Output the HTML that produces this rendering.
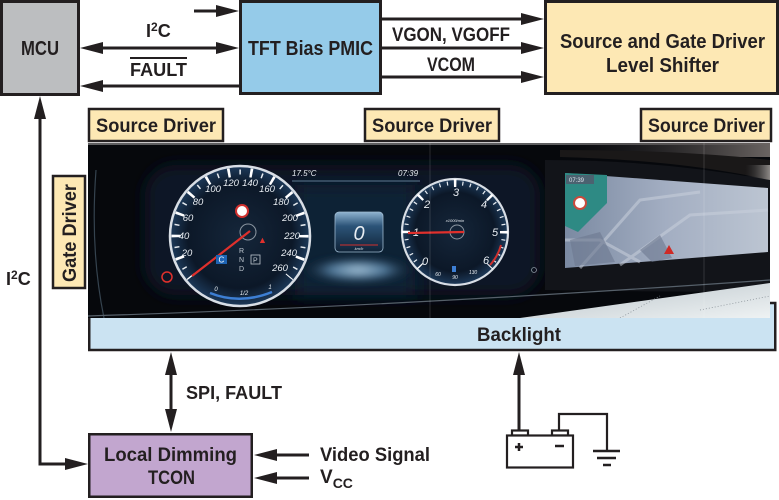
<!DOCTYPE html>
<html><head><meta charset="utf-8"><style>
html,body{margin:0;padding:0;background:#fff;}
svg{display:block;}
.t{font-family:"Liberation Sans",sans-serif;font-weight:bold;fill:#231f20;}
.g{font-family:"Liberation Sans",sans-serif;font-style:italic;fill:#e8edf2;}
</style></head><body>
<svg width="779" height="500" viewBox="0 0 779 500" xmlns="http://www.w3.org/2000/svg">
<defs>
<clipPath id="pc"><rect x="88" y="143" width="682" height="175"/></clipPath>
<filter id="bl" x="-20%" y="-20%" width="140%" height="140%"><feGaussianBlur stdDeviation="8"/></filter>
<filter id="bl2" x="-20%" y="-50%" width="140%" height="200%"><feGaussianBlur stdDeviation="4"/></filter>
<radialGradient id="face" cx="50%" cy="50%" r="50%"><stop offset="0" stop-color="#15263a"/><stop offset="0.75" stop-color="#0c1828"/><stop offset="1" stop-color="#1d3a5a"/></radialGradient>
<linearGradient id="nav" x1="0" y1="0" x2="1" y2="0"><stop offset="0" stop-color="#7b8aa2"/><stop offset="0.5" stop-color="#a3aec2"/><stop offset="1" stop-color="#bcc5d2"/></linearGradient>
<linearGradient id="surf" x1="0" y1="0" x2="1" y2="1"><stop offset="0" stop-color="#b9c3c9"/><stop offset="1" stop-color="#eef2f3"/></linearGradient>
<radialGradient id="glow" cx="50%" cy="50%" r="50%"><stop offset="0" stop-color="#a9c6da"/><stop offset="0.5" stop-color="#4d7596"/><stop offset="1" stop-color="#0b1626" stop-opacity="0"/></radialGradient>
<linearGradient id="cd" x1="0" y1="0" x2="0" y2="1"><stop offset="0" stop-color="#8fb3d0"/><stop offset="0.35" stop-color="#2c5478"/><stop offset="1" stop-color="#0f2236"/></linearGradient>
<linearGradient id="tr" x1="0" y1="0" x2="1" y2="0"><stop offset="0" stop-color="#2a2626" stop-opacity="0"/><stop offset="1" stop-color="#6a6462"/></linearGradient>
<linearGradient id="re" x1="0" y1="0" x2="1" y2="0"><stop offset="0" stop-color="#3a3a3c" stop-opacity="0"/><stop offset="1" stop-color="#8e8a87"/></linearGradient>
</defs>

<!-- Top blocks -->
<rect x="1.5" y="1.5" width="77" height="93" fill="#bcbec0" stroke="#231f20" stroke-width="3"/>
<text class="t" x="21" y="55" font-size="20" textLength="38" lengthAdjust="spacingAndGlyphs">MCU</text>

<rect x="240.5" y="1.5" width="140" height="92" fill="#95cbe9" stroke="#231f20" stroke-width="3"/>
<text class="t" x="248" y="55" font-size="20" textLength="125" lengthAdjust="spacingAndGlyphs">TFT Bias PMIC</text>

<rect x="545.5" y="1.5" width="232" height="92" fill="#fde8b4" stroke="#231f20" stroke-width="3"/>
<text class="t" x="560" y="48" font-size="20" textLength="205" lengthAdjust="spacingAndGlyphs">Source and Gate Driver</text>
<text class="t" x="606" y="72" font-size="20" textLength="113" lengthAdjust="spacingAndGlyphs">Level Shifter</text>

<!-- arrows top -->
<g stroke="#231f20" stroke-width="3" fill="none">
<line x1="194" y1="11" x2="220" y2="11"/>
<line x1="100" y1="48" x2="220" y2="48"/>
<line x1="100" y1="86" x2="240" y2="86"/>
<line x1="381" y1="19" x2="525" y2="19"/>
<line x1="381" y1="48" x2="525" y2="48"/>
<line x1="381" y1="77" x2="525" y2="77"/>
<polyline points="40,115 40,464 68,464" stroke-linejoin="miter"/>
<line x1="171" y1="372" x2="171" y2="414"/>
<line x1="274" y1="455" x2="309" y2="455"/>
<line x1="274" y1="478" x2="309" y2="478"/>
<line x1="519" y1="372" x2="519" y2="431"/>
<line x1="130" y1="58" x2="187" y2="58" stroke-width="2"/>
</g>
<g fill="#231f20">
<polygon points="239,11 216,5 216,17"/>
<polygon points="80,48 103,42 103,54"/>
<polygon points="239,48 216,42 216,54"/>
<polygon points="80,86 103,80 103,92"/>
<polygon points="544,19 521,13 521,25"/>
<polygon points="544,48 521,42 521,54"/>
<polygon points="544,77 521,71 521,83"/>
<polygon points="40,96 34,119 46,119"/>
<polygon points="88,464 65,458 65,470"/>
<polygon points="171,352 165,375 177,375"/>
<polygon points="171,432 165,409 177,409"/>
<polygon points="254,455 277,449 277,461"/>
<polygon points="254,478 277,472 277,484"/>
<polygon points="519,352 513,375 525,375"/>
</g>

<text class="t" x="146" y="37" font-size="18">I<tspan font-size="12" dy="-6">2</tspan><tspan dy="6">C</tspan></text>
<text class="t" x="130" y="76" font-size="18" textLength="57" lengthAdjust="spacingAndGlyphs">FAULT</text>
<text class="t" x="392" y="41" font-size="19" textLength="118" lengthAdjust="spacingAndGlyphs">VGON, VGOFF</text>
<text class="t" x="427" y="71" font-size="19" textLength="48" lengthAdjust="spacingAndGlyphs">VCOM</text>

<!-- Source driver labels -->
<rect x="89" y="109" width="134" height="32" fill="#fde8b4" stroke="#231f20" stroke-width="2.5"/>
<text class="t" x="96" y="132" font-size="19" textLength="120" lengthAdjust="spacingAndGlyphs">Source Driver</text>
<rect x="365" y="109" width="134" height="32" fill="#fde8b4" stroke="#231f20" stroke-width="2.5"/>
<text class="t" x="372" y="132" font-size="19" textLength="120" lengthAdjust="spacingAndGlyphs">Source Driver</text>
<rect x="641" y="109" width="130" height="32" fill="#fde8b4" stroke="#231f20" stroke-width="2.5"/>
<text class="t" x="648" y="132" font-size="19" textLength="117" lengthAdjust="spacingAndGlyphs">Source Driver</text>

<!-- Gate driver -->
<rect x="53" y="176" width="32" height="112" fill="#fde8b4" stroke="#231f20" stroke-width="2.5"/>
<text class="t" transform="translate(76,282) rotate(-90)" x="0" y="0" font-size="19" textLength="98" lengthAdjust="spacingAndGlyphs">Gate Driver</text>

<text class="t" x="6" y="285" font-size="18">I<tspan font-size="12" dy="-6">2</tspan><tspan dy="6">C</tspan></text>

<!-- Backlight -->
<rect x="89.25" y="303" width="686" height="47" fill="#cbe3f2" stroke="#231f20" stroke-width="2.5"/>
<text class="t" x="477" y="341" font-size="19" textLength="84" lengthAdjust="spacingAndGlyphs">Backlight</text>

<!-- Photo -->
<g clip-path="url(#pc)">
<rect x="88" y="143" width="682" height="175" fill="#06080c"/>
<rect x="88" y="143" width="682" height="2" fill="#5e5e60"/>
<rect x="560" y="143" width="210" height="14" fill="url(#tr)"/>
<path d="M560 157 Q680 160 770 180 L770 160 Q680 150 560 150 Z" fill="#1a1818"/>
<rect x="745" y="165" width="25" height="125" fill="url(#re)"/>
<path d="M96 170 Q90 250 104 318" stroke="#35434f" stroke-width="1.2" fill="none"/>
<!-- cluster glass -->
<rect x="145" y="165" width="395" height="130" rx="30" fill="#0a1626" filter="url(#bl)"/>
<rect x="295" y="185" width="120" height="110" fill="#0e2136" filter="url(#bl)"/>
<line x1="292" y1="181" x2="420" y2="181" stroke="#5f7a92" stroke-width="1"/>
<ellipse cx="358" cy="270" rx="58" ry="14" fill="url(#glow)" filter="url(#bl2)"/>
<!-- center display -->
<rect x="335" y="212" width="48" height="40" rx="4" fill="url(#cd)" stroke="#9ebad0" stroke-width="0.8"/>
<text class="g" x="359" y="240" font-size="20" text-anchor="middle">0</text>
<line x1="340" y1="245" x2="378" y2="245" stroke="#d0302e" stroke-width="1"/>
<text class="g" x="359" y="250" font-size="4" text-anchor="middle">km/h</text>
<text class="g" x="292" y="176" font-size="8" font-style="normal" fill="#aab6c2">17.5°C</text>
<text class="g" x="398" y="176" font-size="8" font-style="normal" fill="#aab6c2">07:39</text>

<!-- speedometer -->
<circle cx="240" cy="236" r="70" fill="url(#face)" stroke="#d8dee5" stroke-width="2.5"/>
<path d="M190.97 277.14 A64 64 0 1 1 289.03 277.14" fill="none" stroke="#e6ebf0" stroke-width="5" stroke-dasharray="1.5 9.67" stroke-dashoffset="0.75"/>
<path d="M190.97 277.14 A64 64 0 1 1 289.03 277.14" fill="none" stroke="#ffffff" stroke-width="9" stroke-dasharray="2.6 19.74" stroke-dashoffset="1.3"/>
<g class="g" font-size="9.5" text-anchor="middle">
<text x="187" y="256">20</text><text x="184" y="239">40</text><text x="188" y="221">60</text>
<text x="198" y="205">80</text><text x="213" y="192">100</text><text x="231" y="186">120</text>
<text x="250" y="186">140</text><text x="267" y="192">160</text><text x="281" y="205">180</text>
<text x="290" y="221">200</text><text x="292" y="239">220</text><text x="289" y="256">240</text>
<text x="280" y="271">260</text>
</g>
<path d="M210 293 Q240 305 272 292" fill="none" stroke="#3d7fd4" stroke-width="2.5"/>
<circle cx="242" cy="211" r="6" fill="#fff" stroke="#d0302e" stroke-width="2"/>
<circle cx="248" cy="232" r="8" fill="none" stroke="#8a95a0" stroke-width="1"/>
<line x1="250" y1="231" x2="192" y2="276" stroke="#e0302c" stroke-width="2.2"/>
<circle cx="167" cy="277" r="5" fill="none" stroke="#e0302c" stroke-width="1.5"/>
<text x="258" y="243" font-size="9" fill="#e0302c" font-family="Liberation Sans,sans-serif">▲</text>
<rect x="216" y="255" width="11" height="9" fill="#1e64b4"/>
<text x="218.5" y="262.5" font-size="8" fill="#fff" font-family="Liberation Sans,sans-serif">C</text>
<g font-size="7" fill="#c0c8d0" font-family="Liberation Sans,sans-serif"><text x="239" y="253">R</text><text x="239" y="262">N</text><text x="239" y="271">D</text></g>
<rect x="251" y="255" width="9" height="9" fill="none" stroke="#c0c8d0" stroke-width="0.8"/>
<text x="253" y="262.5" font-size="7" fill="#c0c8d0" font-family="Liberation Sans,sans-serif">P</text>
<g class="g" font-size="6" text-anchor="middle"><text x="216" y="291">0</text><text x="244" y="295">1/2</text><text x="270" y="289">1</text></g>

<!-- tachometer -->
<circle cx="455" cy="232" r="53" fill="url(#face)" stroke="#d8dee5" stroke-width="2.2"/>
<path d="M420.35 266.65 A49 49 0 1 1 489.65 266.65" fill="none" stroke="#e6ebf0" stroke-width="4" stroke-dasharray="1.2 6.497" stroke-dashoffset="0.6"/>
<path d="M420.35 266.65 A49 49 0 1 1 489.65 266.65" fill="none" stroke="#ffffff" stroke-width="8" stroke-dasharray="2.5 35.98" stroke-dashoffset="1.25"/>
<path d="M501 245 A48 48 0 0 1 490 265" fill="none" stroke="#d0302e" stroke-width="2"/>
<g class="g" font-size="11" text-anchor="middle">
<text x="425" y="265">0</text><text x="416" y="236">1</text><text x="427" y="208">2</text>
<text x="456" y="196">3</text><text x="484" y="208">4</text><text x="495" y="236">5</text><text x="486" y="264">6</text>
</g>
<g class="g" font-size="5" text-anchor="middle"><text x="438" y="276">60</text><text x="455" y="279">90</text><text x="473" y="274">130</text></g>
<rect x="452" y="266" width="4" height="6" fill="#3d7fd4"/>
<circle cx="457" cy="232" r="7" fill="none" stroke="#8a95a0" stroke-width="1"/>
<line x1="464" y1="232" x2="408" y2="233" stroke="#e0302c" stroke-width="2.2"/>
<text class="g" x="455" y="222" font-size="4" text-anchor="middle">x1000/min</text>
<circle cx="534" cy="270" r="2.5" fill="none" stroke="#8a95a0" stroke-width="0.8"/>

<!-- nav -->
<path d="M545 160 Q660 160 770 180 L770 292 Q660 292 545 290 Z" fill="#121419"/>
<polygon points="565,173 768,188 768,252 565,268" fill="url(#nav)"/>
<g stroke="#c9d0dc" stroke-width="3" opacity="0.55" fill="none">
<polyline points="580,268 640,200 700,192"/>
<polyline points="620,265 690,215 768,210"/>
<polyline points="565,240 600,240 640,262"/>
</g>
<g fill="#6c7890" opacity="0.6">
<polygon points="570,240 600,232 615,262 575,266"/>
<polygon points="640,250 660,235 672,258 652,262"/>
</g>
<polygon points="565,173 607,175 607,203 578,232 565,226" fill="#2e8a84"/>
<rect x="566" y="175" width="28" height="9" fill="#4b6270"/>
<text x="569" y="182" font-size="6" fill="#dfe6ee" font-family="Liberation Sans,sans-serif">07:39</text>
<circle cx="580" cy="203" r="6" fill="#fff" stroke="#c94a3c" stroke-width="2"/>
<polygon points="669,245 674,254 664,254" fill="#cf2a26"/>
<!-- bottom surface -->
<path d="M88 316 Q400 306 770 280" stroke="#56606a" stroke-width="1.2" fill="none"/>
<polygon points="520,318 770,283 770,318" fill="url(#surf)"/>
<g stroke="#8d959c" stroke-width="0.8" stroke-dasharray="1 2" fill="none">
<line x1="620" y1="318" x2="660" y2="296"/><line x1="700" y1="310" x2="770" y2="296"/>
</g>
<line x1="430" y1="143" x2="430" y2="318" stroke="#ffffff" stroke-opacity="0.18" stroke-width="0.8"/>
<line x1="704" y1="143" x2="704" y2="318" stroke="#ffffff" stroke-opacity="0.18" stroke-width="0.8"/>
</g>

<!-- SPI label -->
<text class="t" x="186" y="399" font-size="18" textLength="96" lengthAdjust="spacingAndGlyphs">SPI, FAULT</text>

<!-- TCON -->
<rect x="89.25" y="434.25" width="162.5" height="62.5" fill="#c2a6cf" stroke="#231f20" stroke-width="2.5"/>
<text class="t" x="104" y="461" font-size="19" textLength="133" lengthAdjust="spacingAndGlyphs">Local Dimming</text>
<text class="t" x="148" y="484" font-size="19" textLength="47" lengthAdjust="spacingAndGlyphs">TCON</text>
<text class="t" x="320" y="461" font-size="19" textLength="110" lengthAdjust="spacingAndGlyphs">Video Signal</text>
<text class="t" x="320" y="483" font-size="19">V<tspan font-size="14" dy="5">CC</tspan></text>

<!-- Battery -->
<g stroke="#231f20" fill="none" stroke-width="2.2">
<rect x="512" y="430.5" width="16" height="5" fill="#fff"/>
<rect x="552" y="430.5" width="16" height="5" fill="#fff"/>
<rect x="507" y="435.5" width="66" height="32" fill="#fff"/>
<polyline points="559,430 559,414 607,414 607,451"/>
<line x1="593" y1="451" x2="620" y2="451" stroke-width="2.5"/>
<line x1="597" y1="458" x2="616" y2="458" stroke-width="2.5"/>
<line x1="603" y1="465" x2="611" y2="465" stroke-width="2.5"/>
<line x1="515" y1="447" x2="523" y2="447" stroke-width="2.5"/>
<line x1="519" y1="443" x2="519" y2="451" stroke-width="2.5"/>
<line x1="555" y1="446" x2="564" y2="446" stroke-width="2.5"/>
</g>
</svg>
</body></html>
